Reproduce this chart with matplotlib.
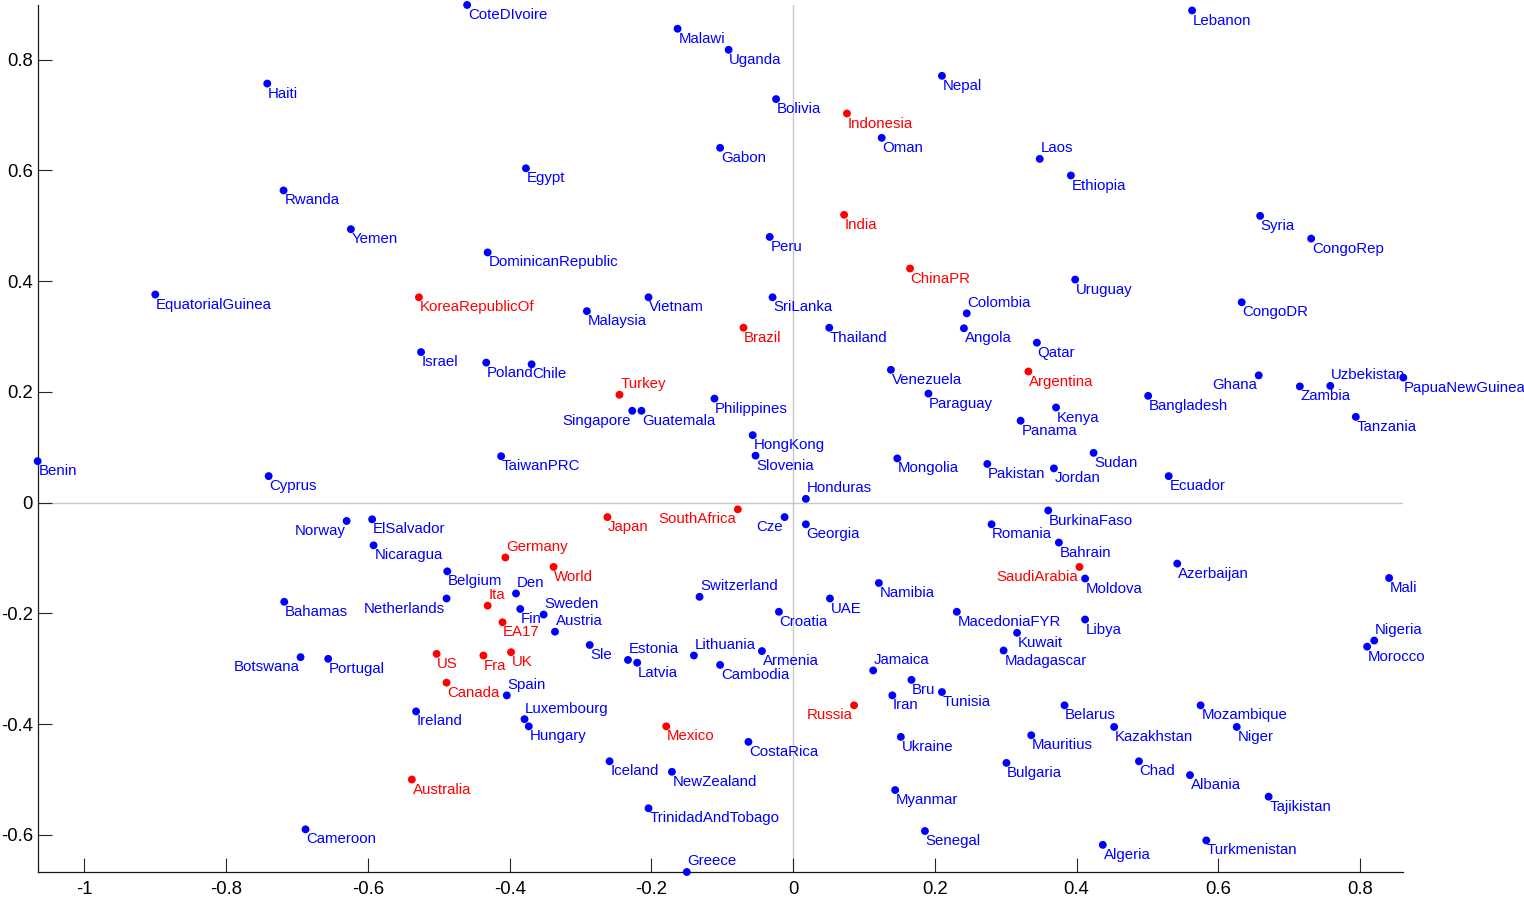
import numpy as np
import matplotlib
matplotlib.use("Agg")
import matplotlib.pyplot as plt
import matplotlib.ticker as ticker

# ==========================================
# Data (scores on the first two components)
# ==========================================
COUNTRIES = [
    "CoteDIvoire", "Malawi", "Uganda", "Lebanon", "Haiti", "Nepal", "Bolivia",
    "Indonesia", "Oman", "Gabon", "Laos", "Egypt", "Ethiopia", "Rwanda", "India",
    "Syria", "Yemen", "Peru", "DominicanRepublic", "CongoRep", "ChinaPR",
    "Uruguay", "EquatorialGuinea", "KoreaRepublicOf", "Vietnam", "SriLanka",
    "Colombia", "CongoDR", "Malaysia", "Brazil", "Thailand", "Angola", "Qatar",
    "Israel", "Poland", "Chile", "Turkey", "Venezuela", "Argentina", "Ghana",
    "Uzbekistan", "PapuaNewGuinea", "Zambia", "Bangladesh", "Paraguay", "Kenya",
    "Philippines", "Singapore", "Guatemala", "Panama", "Tanzania", "HongKong",
    "Benin", "TaiwanPRC", "Slovenia", "Sudan", "Mongolia", "Pakistan", "Jordan",
    "Cyprus", "Honduras", "Ecuador", "Japan", "SouthAfrica", "BurkinaFaso",
    "Cze", "Norway", "ElSalvador", "Georgia", "Romania", "Nicaragua", "Germany",
    "Bahrain", "World", "SaudiArabia", "Azerbaijan", "Belgium", "Den",
    "Switzerland", "Moldova", "Mali", "Namibia", "Ita", "Bahamas", "Netherlands",
    "Sweden", "UAE", "Fin", "Austria", "Croatia", "MacedoniaFYR", "EA17", "Libya",
    "Nigeria", "Kuwait", "Estonia", "Lithuania", "Sle", "Jamaica", "Armenia",
    "Madagascar", "Morocco", "Botswana", "Portugal", "US", "Fra", "UK", "Latvia",
    "Cambodia", "Canada", "Spain", "Bru", "Tunisia", "Iran", "Luxembourg",
    "Russia", "Belarus", "Mozambique", "Ireland", "Hungary", "Mexico",
    "Kazakhstan", "Niger", "Ukraine", "Mauritius", "CostaRica", "Iceland",
    "Bulgaria", "Chad", "NewZealand", "Albania", "Australia", "Myanmar",
    "Tajikistan", "TrinidadAndTobago", "Cameroon", "Senegal", "Algeria",
    "Turkmenistan", "Greece",
]

X_SCORE = [
    -0.460, -0.163, -0.091, 0.563, -0.742, 0.210, -0.024,
    0.076, 0.125, -0.103, 0.348, -0.377, 0.392, -0.719, 0.072,
    0.659, -0.624, -0.033, -0.431, 0.731, 0.165,
    0.398, -0.900, -0.528, -0.204, -0.029,
    0.245, 0.633, -0.291, -0.070, 0.051, 0.241, 0.344,
    -0.525, -0.433, -0.369, -0.245, 0.138, 0.332, 0.657,
    0.758, 0.861, 0.715, 0.501, 0.191, 0.371,
    -0.111, -0.227, -0.214, 0.321, 0.794, -0.057,
    -1.066, -0.412, -0.053, 0.424, 0.147, 0.274, 0.368,
    -0.740, 0.018, 0.530, -0.262, -0.078, 0.360,
    -0.012, -0.630, -0.594, 0.018, 0.280, -0.592, -0.406,
    0.375, -0.338, 0.404, 0.542, -0.488, -0.391,
    -0.132, 0.412, 0.841, 0.121, -0.431, -0.718, -0.489,
    -0.352, 0.052, -0.385, -0.336, -0.020, 0.231, -0.410, 0.412,
    0.820, 0.316, -0.233, -0.140, -0.287, 0.113, -0.044,
    0.297, 0.810, -0.695, -0.656, -0.503, -0.437, -0.398, -0.220,
    -0.103, -0.489, -0.404, 0.167, 0.210, 0.140, -0.379,
    0.086, 0.383, 0.575, -0.532, -0.373, -0.179,
    0.453, 0.626, 0.152, 0.336, -0.063, -0.259,
    0.301, 0.488, -0.171, 0.560, -0.538, 0.144,
    0.671, -0.204, -0.688, 0.186, 0.437,
    0.583, -0.150,
]

Y_SCORE = [
    0.899, 0.856, 0.818, 0.889, 0.757, 0.771, 0.729,
    0.703, 0.659, 0.641, 0.621, 0.604, 0.591, 0.564, 0.520,
    0.518, 0.494, 0.480, 0.452, 0.477, 0.423,
    0.403, 0.376, 0.371, 0.371, 0.371,
    0.342, 0.362, 0.346, 0.316, 0.316, 0.315, 0.289,
    0.272, 0.253, 0.250, 0.195, 0.240, 0.237, 0.230,
    0.211, 0.226, 0.210, 0.193, 0.197, 0.172,
    0.188, 0.166, 0.166, 0.148, 0.155, 0.122,
    0.075, 0.084, 0.085, 0.090, 0.080, 0.070, 0.062,
    0.048, 0.007, 0.048, -0.026, -0.012, -0.014,
    -0.026, -0.033, -0.030, -0.039, -0.039, -0.077, -0.099,
    -0.072, -0.116, -0.116, -0.110, -0.124, -0.164,
    -0.170, -0.137, -0.136, -0.145, -0.186, -0.179, -0.173,
    -0.202, -0.173, -0.192, -0.233, -0.197, -0.197, -0.216, -0.211,
    -0.249, -0.235, -0.284, -0.276, -0.257, -0.303, -0.268,
    -0.267, -0.260, -0.279, -0.282, -0.273, -0.276, -0.270, -0.289,
    -0.293, -0.325, -0.348, -0.320, -0.342, -0.348, -0.391,
    -0.366, -0.366, -0.366, -0.377, -0.404, -0.404,
    -0.405, -0.405, -0.423, -0.420, -0.432, -0.467,
    -0.470, -0.467, -0.486, -0.492, -0.500, -0.519,
    -0.531, -0.552, -0.590, -0.593, -0.618,
    -0.610, -0.667,
]

# highlighted group (drawn in red)
HIGHLIGHT = {
    "Indonesia", "India", "ChinaPR", "KoreaRepublicOf", "Brazil", "Turkey",
    "Argentina", "Japan", "SouthAfrica", "Germany", "World", "SaudiArabia",
    "Ita", "EA17", "US", "Fra", "UK", "Canada", "Russia", "Mexico", "Australia",
}

# label placement (default: below right of the dot)
LABEL_ABOVE = {
    "Laos", "Colombia", "Turkey", "Honduras", "Germany", "Den", "Ita", "Sweden",
    "Austria", "Estonia", "Lithuania", "Spain", "Luxembourg", "Greece",
    "Switzerland", "Jamaica", "Uzbekistan", "Nigeria",
}
LABEL_LEFT = {
    "Norway", "Singapore", "SouthAfrica", "Cze", "Ghana", "SaudiArabia",
    "Netherlands", "Botswana", "Russia",
}

# ==========================================
# Style
# ==========================================
PLOT_SETTINGS = {
    "fig_size": (15.24, 9.01),
    "dpi": 100,
    "axes_rect": [0.0247, 0.0322, 0.8961, 0.9623],
    "font_size_label": 10.8,
    "font_size_tick": 13.3,
    "marker_size": 32,
    "zero_color": "#c8c8c8",
}
COLORS = {"normal": "#0000ff", "highlight": "#ff0000"}

plt.rcParams["font.family"] = ["Liberation Sans", "DejaVu Sans"]


def fmt_tick(v, pos):
    return f"{round(v, 1) + 0:g}"


def main():
    xs = np.array(X_SCORE)
    ys = np.array(Y_SCORE)
    cols = [COLORS["highlight"] if n in HIGHLIGHT else COLORS["normal"] for n in COUNTRIES]

    fig = plt.figure(figsize=PLOT_SETTINGS["fig_size"], dpi=PLOT_SETTINGS["dpi"])
    ax = fig.add_axes(PLOT_SETTINGS["axes_rect"])

    # zero lines
    ax.axhline(0, color=PLOT_SETTINGS["zero_color"], lw=1, zorder=0.5)
    ax.axvline(0, color=PLOT_SETTINGS["zero_color"], lw=1, zorder=0.5)

    ax.scatter(xs, ys, s=PLOT_SETTINGS["marker_size"], c=cols, linewidths=0,
               clip_on=False, zorder=3)

    for name, x, y, c in zip(COUNTRIES, xs, ys, cols):
        if name in LABEL_ABOVE:
            off, ha, va = (0.5, 4.8), "left", "baseline"
        elif name in LABEL_LEFT:
            off, ha, va = (-1.0, -2.2), "right", "top"
        else:
            off, ha, va = (0.5, -2.2), "left", "top"
        ax.annotate(name, (x, y), xytext=off, textcoords="offset points",
                    ha=ha, va=va, color=c, fontsize=PLOT_SETTINGS["font_size_label"],
                    annotation_clip=False, zorder=4)

    # tight axes like the original
    ax.set_xlim(xs.min(), xs.max())
    ax.set_ylim(ys.min(), ys.max())

    ax.xaxis.set_major_locator(ticker.FixedLocator(np.round(np.arange(-1.0, 0.81, 0.2), 1)))
    ax.yaxis.set_major_locator(ticker.FixedLocator(np.round(np.arange(-0.6, 0.81, 0.2), 1)))
    ax.xaxis.set_major_formatter(ticker.FuncFormatter(fmt_tick))
    ax.yaxis.set_major_formatter(ticker.FuncFormatter(fmt_tick))

    for side in ("top", "right"):
        ax.spines[side].set_visible(False)
    for side in ("left", "bottom"):
        ax.spines[side].set_color("#1a1a1a")
        ax.spines[side].set_linewidth(0.9)

    ax.tick_params(axis="both", direction="in", length=10, width=0.8,
                   color="#262626", labelsize=PLOT_SETTINGS["font_size_tick"])
    ax.tick_params(axis="x", pad=6.5)
    ax.tick_params(axis="y", pad=3.4)

    fig.savefig("out.png", dpi=PLOT_SETTINGS["dpi"])
    plt.close(fig)


if __name__ == "__main__":
    main()
